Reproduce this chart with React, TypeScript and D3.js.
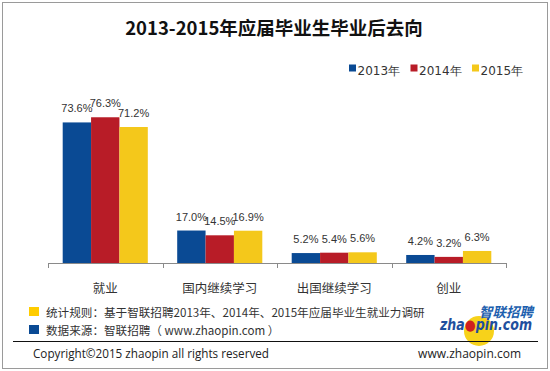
import * as d3 from 'd3'

const categories = ['就业', '国内继续学习', '出国继续学习', '创业']
const years = ['2013年', '2014年', '2015年']
const values2013 = [73.6, 17.0, 5.2, 4.2]
const values2014 = [76.3, 14.5, 5.4, 3.2]
const values2015 = [71.2, 16.9, 5.6, 6.3]
const colors = ['#0a4a94', '#b81c27', '#f4c81b']

const seriesValues = [values2013, values2014, values2015]

const W = 550
const H = 371
const cjk = '"Noto Sans CJK SC", "Noto Sans", sans-serif'
const latin = '"Liberation Sans", Arial, sans-serif'

const App = () => {
  // scales
  const x = d3.scaleBand<string>().domain(categories).range([48, 506]).padding(0)
  const bw = x.bandwidth()
  const inner = d3.scaleBand<string>().domain(years).range([14.7, bw - 14.7]).padding(0)
  const y = d3.scaleLinear().domain([0, 100]).range([263, 72])

  const ticks = categories.map(c => x(c)!).concat([506])

  return (
    <svg width={W} height={H} style={{ position: 'absolute', left: 0, top: 0 }}>
      <rect x={0} y={0} width={W} height={H} fill="#fff" />
      <rect x={2.5} y={2.5} width={545} height={366} fill="none" stroke="#9a9a9a" />

      {/* title */}
      <text x={274} y={35} textAnchor="middle" fontFamily={cjk} fontWeight="bold" fontSize={18.5} fill="#111">
        2013-2015年应届毕业生毕业后去向
      </text>

      {/* legend */}
      {years.map((yr, i) => {
        const lx = 349 + i * 61.5
        return (
          <g key={yr}>
            <rect x={lx} y={64.5} width={7} height={7} fill={colors[i]} />
            <text x={lx + 8.5} y={74.5} fontFamily='"DejaVu Sans", sans-serif' fontSize={12} fill="#333">
              {yr}
            </text>
          </g>
        )
      })}

      {/* bars */}
      {categories.map((c, ci) => (
        <g key={c} transform={`translate(${x(c)},0)`}>
          {years.map((yr, si) => {
            const v = seriesValues[si][ci]
            const bx = inner(yr)!
            return (
              <g key={yr}>
                <rect x={bx} y={y(v)} width={inner.bandwidth()} height={y(0) - y(v)} fill={colors[si]} />
                <text
                  x={bx + inner.bandwidth() / 2}
                  y={y(v) - 10}
                  textAnchor="middle"
                  fontFamily={latin}
                  fontSize={11}
                  fill="#333"
                >
                  {v.toFixed(1)}%
                </text>
              </g>
            )
          })}
          <text x={bw / 2} y={292.5} textAnchor="middle" fontFamily={cjk} fontSize={12.5} fill="#333">
            {c}
          </text>
        </g>
      ))}

      {/* axis */}
      <line x1={48} x2={506} y1={263.5} y2={263.5} stroke="#8a8a8a" />
      {ticks.map((t, i) => (
        <line key={i} x1={Math.round(t) + 0.5} x2={Math.round(t) + 0.5} y1={263} y2={268} stroke="#8a8a8a" />
      ))}

      {/* notes */}
      <rect x={29} y={307} width={10} height={9} fill="#ffcc00" />
      <text x={46} y={316.5} fontFamily={cjk} fontSize={11.6} fill="#333">
        统计规则：基于智联招聘2013年、2014年、2015年应届毕业生就业力调研
      </text>
      <rect x={29} y={325} width={10} height={9} fill="#0a4a94" />
      <text x={46} y={334.5} fontFamily={cjk} fontSize={11.6} fill="#333">
        数据来源：智联招聘（ www.zhaopin.com ）
      </text>

      {/* logo */}
      <circle cx={479} cy={331} r={15} fill="#f7d21a" />
      <text x={479} y={317} fontFamily={cjk} fontWeight="bold" fontStyle="italic" fontSize={13.5} fill="#1d5fae">
        智联招聘
      </text>
      <text x={440} y={330} fontFamily='"DejaVu Sans", sans-serif' fontWeight="bold" fontStyle="italic" fontSize={15} fill="#1f4f9e" textLength={92} lengthAdjust="spacingAndGlyphs">
        zha<tspan fill="#d11f1f">●</tspan>pin.com
      </text>

      <line x1={13} x2={538} y1={341.5} y2={341.5} stroke="#111" />

      <text x={33} y={358} fontFamily='"Open Sans", sans-serif' fontSize={11.7} fill="#222">
        Copyright©2015 zhaopin all rights reserved
      </text>
      <text x={521} y={358} textAnchor="end" fontFamily='"Open Sans", sans-serif' fontSize={12} fill="#222">
        www.zhaopin.com
      </text>
    </svg>
  )
}

export default App
